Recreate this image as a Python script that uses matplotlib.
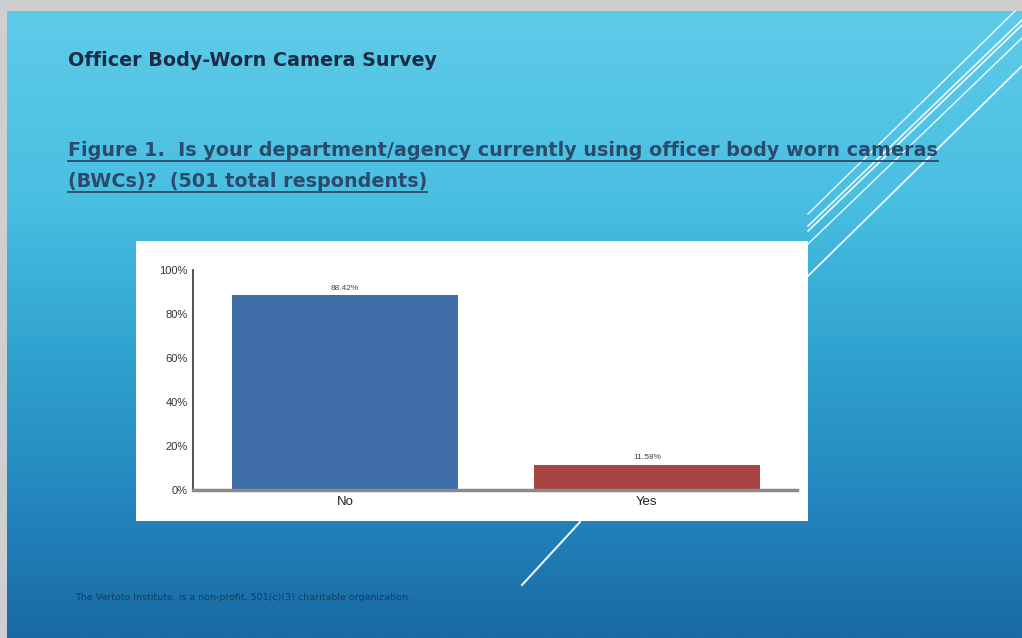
import numpy as np
import matplotlib.pyplot as plt
from matplotlib.patches import Rectangle
from matplotlib.colors import LinearSegmentedColormap

# data
categories = ["No", "Yes"]
shares = [88.42, 11.58]
bar_labels = ["88.42%", "11.58%"]
yticks = [0, 20, 40, 60, 80, 100]
ytick_labels = ["0%", "20%", "40%", "60%", "80%", "100%"]

W, H = 1022, 638
fig = plt.figure(figsize=(W / 100, H / 100), dpi=100, facecolor="#cfcfcf")

# slide background in pixel coords
bg = fig.add_axes([0, 0, 1, 1])
bg.set_xlim(0, W)
bg.set_ylim(H, 0)
bg.axis("off")

grad = LinearSegmentedColormap.from_list(
    "slide",
    [(0.0, "#5fcbe9"), (0.3, "#49bfe2"), (0.55, "#2fa2cf"), (0.8, "#2284bb"), (1.0, "#1a6aa4")],
)
g = np.linspace(0, 1, 256).reshape(-1, 1)
bg.imshow(g, cmap=grad, aspect="auto", extent=(7, W, H, 11), zorder=0)

# decorative white diagonals
for (x0, y0, x1, y1, lw) in [
    (1015, 11, 808, 214, 1.0),
    (1022, 20, 808, 226, 1.2),
    (1022, 25, 808, 231, 1.2),
    (1022, 38, 808, 244, 1.0),
    (1022, 66, 808, 276, 1.3),
    (580, 522, 522, 585, 1.5),
]:
    bg.plot([x0, x1], [y0, y1], color="white", lw=lw, alpha=0.9, zorder=1)

# white panel behind chart
bg.add_patch(Rectangle((136, 241), 672, 280, facecolor="white", edgecolor="none", zorder=2))

# headings
bg.text(68, 60, "Officer Body-Worn Camera Survey", fontsize=13.8, fontweight="bold",
        color="#1d2c44", family="DejaVu Sans", va="center", ha="left", zorder=3)
fig_lines = [
    "Figure 1.  Is your department/agency currently using officer body worn cameras",
    "(BWCs)?  (501 total respondents)",
]
txts = []
for i, s in enumerate(fig_lines):
    t = bg.text(68, 156 + 31 * i, s, fontsize=13.8, fontweight="bold", color="#2b4a6c",
                family="DejaVu Sans", va="baseline", ha="left", zorder=3)
    txts.append(t)

bg.text(75, 597, "The Vertoto Institute, is a non-profit, 501(c)(3) charitable organization.",
        fontsize=6.8, color="#1a3a58", va="center", ha="left", zorder=3)

# underline the figure caption
fig.canvas.draw()
r = fig.canvas.get_renderer()
for i, t in enumerate(txts):
    bb = t.get_window_extent(renderer=r)
    yline = 161 + 31 * i
    bg.plot([bb.x0, bb.x1], [yline, yline], color="#2b4a6c", lw=1.3, zorder=3)

# bar chart
ax = fig.add_axes([193 / W, (H - 490) / H, 604 / W, 220 / H])
ax.set_facecolor("white")
x = np.arange(len(categories))
bars = ax.bar(x, shares, width=0.75, color=["#3f6ea8", "#a84442"], zorder=2)
for b, lab in zip(bars, bar_labels):
    ax.text(b.get_x() + b.get_width() / 2, b.get_height() + 1.5, lab,
            ha="center", va="bottom", fontsize=6, color="#444444", family="Liberation Sans")

ax.set_xlim(-0.503, 1.497)
ax.set_ylim(0, 100)
ax.set_xticks(x)
ax.set_xticklabels(categories, fontsize=9.5, color="#222222", family="Liberation Sans")
ax.set_yticks(yticks)
ax.set_yticklabels(ytick_labels, fontsize=8, color="#333333", family="Liberation Sans")
ax.tick_params(length=0, pad=4)
for side in ["top", "right"]:
    ax.spines[side].set_visible(False)
ax.spines["left"].set_color("#333333")
ax.spines["left"].set_linewidth(1.2)
ax.spines["bottom"].set_color("#8a8a8a")
ax.spines["bottom"].set_linewidth(2.5)

fig.savefig("out.png", dpi=100, facecolor=fig.get_facecolor())
